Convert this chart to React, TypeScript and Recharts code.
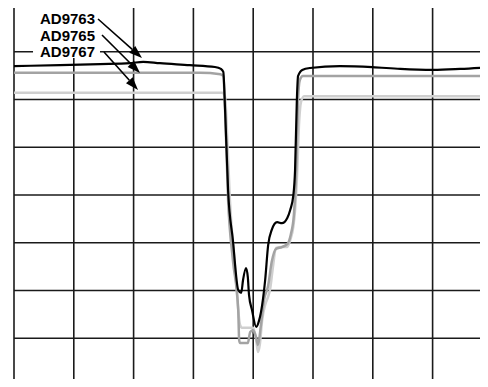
import React from 'react';
import { LineChart, Line, XAxis, YAxis, CartesianGrid, ReferenceArea, ReferenceLine, ReferenceDot } from 'recharts';

// x and y in screen divisions (8 x 8 grid)
const gridTicks = [0, 1, 2, 3, 4, 5, 6, 7, 8];

const ad9763 = [
  { x: 0, y: 6.70 }, { x: 0.77, y: 6.72 }, { x: 1.44, y: 6.74 }, { x: 1.94, y: 6.76 }, { x: 2.16, y: 6.79 },
  { x: 2.44, y: 6.76 }, { x: 2.94, y: 6.72 }, { x: 3.36, y: 6.68 }, { x: 3.46, y: 6.64 }, { x: 3.50, y: 6.58 },
  { x: 3.53, y: 5.78 }, { x: 3.58, y: 4.10 }, { x: 3.66, y: 3.06 }, { x: 3.75, y: 2.01 }, { x: 3.80, y: 1.95 },
  { x: 3.83, y: 2.22 }, { x: 3.88, y: 2.47 }, { x: 3.91, y: 2.28 }, { x: 3.93, y: 1.91 }, { x: 3.98, y: 1.59 },
  { x: 4.05, y: 1.24 }, { x: 4.10, y: 1.38 }, { x: 4.15, y: 1.70 }, { x: 4.20, y: 2.22 }, { x: 4.25, y: 2.95 },
  { x: 4.31, y: 3.27 }, { x: 4.40, y: 3.43 }, { x: 4.48, y: 3.41 }, { x: 4.57, y: 3.52 }, { x: 4.62, y: 3.69 },
  { x: 4.67, y: 3.98 }, { x: 4.70, y: 4.52 }, { x: 4.73, y: 5.99 }, { x: 4.75, y: 6.49 }, { x: 4.82, y: 6.62 },
  { x: 4.95, y: 6.66 }, { x: 5.45, y: 6.70 }, { x: 5.99, y: 6.68 }, { x: 6.46, y: 6.64 }, { x: 7.01, y: 6.62 },
  { x: 7.46, y: 6.64 }, { x: 8.0, y: 6.68 },
];

const ad9765 = [
  { x: 0, y: 6.56 }, { x: 1.44, y: 6.56 }, { x: 3.11, y: 6.56 }, { x: 3.45, y: 6.53 }, { x: 3.50, y: 6.49 },
  { x: 3.53, y: 5.78 }, { x: 3.58, y: 3.90 }, { x: 3.66, y: 2.64 }, { x: 3.75, y: 1.59 }, { x: 3.765, y: 0.96 },
  { x: 3.78, y: 0.90 }, { x: 3.91, y: 0.90 }, { x: 3.95, y: 1.13 }, { x: 4.00, y: 1.17 }, { x: 4.05, y: 1.01 },
  { x: 4.08, y: 0.86 }, { x: 4.13, y: 1.28 }, { x: 4.18, y: 1.80 }, { x: 4.25, y: 2.10 }, { x: 4.31, y: 2.60 },
  { x: 4.38, y: 2.87 }, { x: 4.48, y: 2.91 }, { x: 4.57, y: 2.97 }, { x: 4.63, y: 3.18 }, { x: 4.68, y: 3.58 },
  { x: 4.72, y: 4.52 }, { x: 4.75, y: 5.99 }, { x: 4.78, y: 6.41 }, { x: 4.83, y: 6.49 }, { x: 8, y: 6.49 },
];

const ad9767 = [
  { x: 0, y: 6.14 }, { x: 1.44, y: 6.14 }, { x: 3.11, y: 6.14 }, { x: 3.48, y: 6.14 }, { x: 3.53, y: 6.05 },
  { x: 3.56, y: 5.36 }, { x: 3.61, y: 3.90 }, { x: 3.70, y: 2.43 }, { x: 3.78, y: 1.28 }, { x: 3.81, y: 1.22 },
  { x: 4.00, y: 1.22 }, { x: 4.05, y: 0.96 }, { x: 4.08, y: 0.71 }, { x: 4.11, y: 0.86 }, { x: 4.15, y: 1.38 },
  { x: 4.20, y: 1.70 }, { x: 4.25, y: 1.87 }, { x: 4.28, y: 2.01 }, { x: 4.33, y: 2.49 }, { x: 4.38, y: 2.89 },
  { x: 4.48, y: 2.91 }, { x: 4.57, y: 2.91 }, { x: 4.62, y: 3.06 }, { x: 4.67, y: 3.33 }, { x: 4.70, y: 3.68 },
  { x: 4.73, y: 4.31 }, { x: 4.77, y: 5.57 }, { x: 4.80, y: 5.95 }, { x: 4.85, y: 6.07 }, { x: 5.12, y: 6.07 },
  { x: 8, y: 6.07 },
];

const seriesNames = ['AD9763', 'AD9765', 'AD9767'];
const labelPos = [
  { x: 0.435, y: 7.58 },
  { x: 0.435, y: 7.225 },
  { x: 0.435, y: 6.89 },
];
const arrows = [
  { x1: 1.405, y1: 7.686, x2: 2.14, y2: 6.869 },
  { x1: 1.472, y1: 7.351, x2: 2.107, y2: 6.555 },
  { x1: 1.505, y1: 6.995, x2: 2.074, y2: 6.199 },
];
const labelBox = { x1: 0.318, x2: 1.438, y1: 6.869, y2: 7.916 };

const ArrowShape = (p: any) => {
  const { x1, y1, x2, y2 } = p;
  if (x1 == null || x2 == null) return null;
  const dx = x2 - x1;
  const dy = y2 - y1;
  const len = Math.sqrt(dx * dx + dy * dy);
  const ux = dx / len;
  const uy = dy / len;
  const hl = 13;
  const hw = 4.5;
  const bx = x2 - ux * hl;
  const by = y2 - uy * hl;
  const pts = `${x2},${y2} ${bx - uy * hw},${by + ux * hw} ${bx + uy * hw},${by - ux * hw}`;
  return (
    <g>
      <line x1={x1} y1={y1} x2={bx} y2={by} stroke="#000" strokeWidth={1.6} />
      <polygon points={pts} fill="#000" />
    </g>
  );
};

const LabelShape = (name: string) => (p: any) => (
  <text
    x={p.cx}
    y={p.cy}
    fill="#000"
    fontFamily="'Liberation Sans', Arial, Helvetica, sans-serif"
    fontWeight="bold"
    fontSize={15}
  >
    {name}
  </text>
);

export default function App() {
  return (
    <div style={{ margin: -8, width: 488, height: 387, overflow: 'hidden', position: 'relative', background: '#fff' }}>
      <LineChart
        width={500}
        height={392}
        margin={{ top: 4, left: 14, right: 7.6, bottom: 6 }}
        style={{ position: 'absolute', left: 0, top: 0 }}
      >
        <XAxis type="number" dataKey="x" domain={[0, 8]} ticks={gridTicks} hide allowDuplicatedCategory={false} />
        <YAxis type="number" dataKey="y" domain={[0, 8]} ticks={gridTicks} hide />
        <CartesianGrid stroke="#1a1a1a" strokeWidth={1.6} />
        <ReferenceArea x1={labelBox.x1} x2={labelBox.x2} y1={labelBox.y1} y2={labelBox.y2} fill="#fff" fillOpacity={1} stroke="none" />
        <Line data={ad9767} dataKey="y" type="monotone" stroke="#cfcfcf" strokeWidth={2.5} dot={false} isAnimationActive={false} />
        <Line data={ad9765} dataKey="y" type="monotone" stroke="#a3a3a3" strokeWidth={2.5} dot={false} isAnimationActive={false} />
        <Line data={ad9763} dataKey="y" type="monotone" stroke="#000" strokeWidth={2.2} dot={false} isAnimationActive={false} />
        {arrows.map((a, i) => (
          <ReferenceLine
            key={'a' + i}
            segment={[{ x: a.x1, y: a.y1 }, { x: a.x2, y: a.y2 }]}
            shape={ArrowShape}
          />
        ))}
        {labelPos.map((l, i) => (
          <ReferenceDot key={'l' + i} x={l.x} y={l.y} r={0} shape={LabelShape(seriesNames[i])} />
        ))}
      </LineChart>
    </div>
  );
}
